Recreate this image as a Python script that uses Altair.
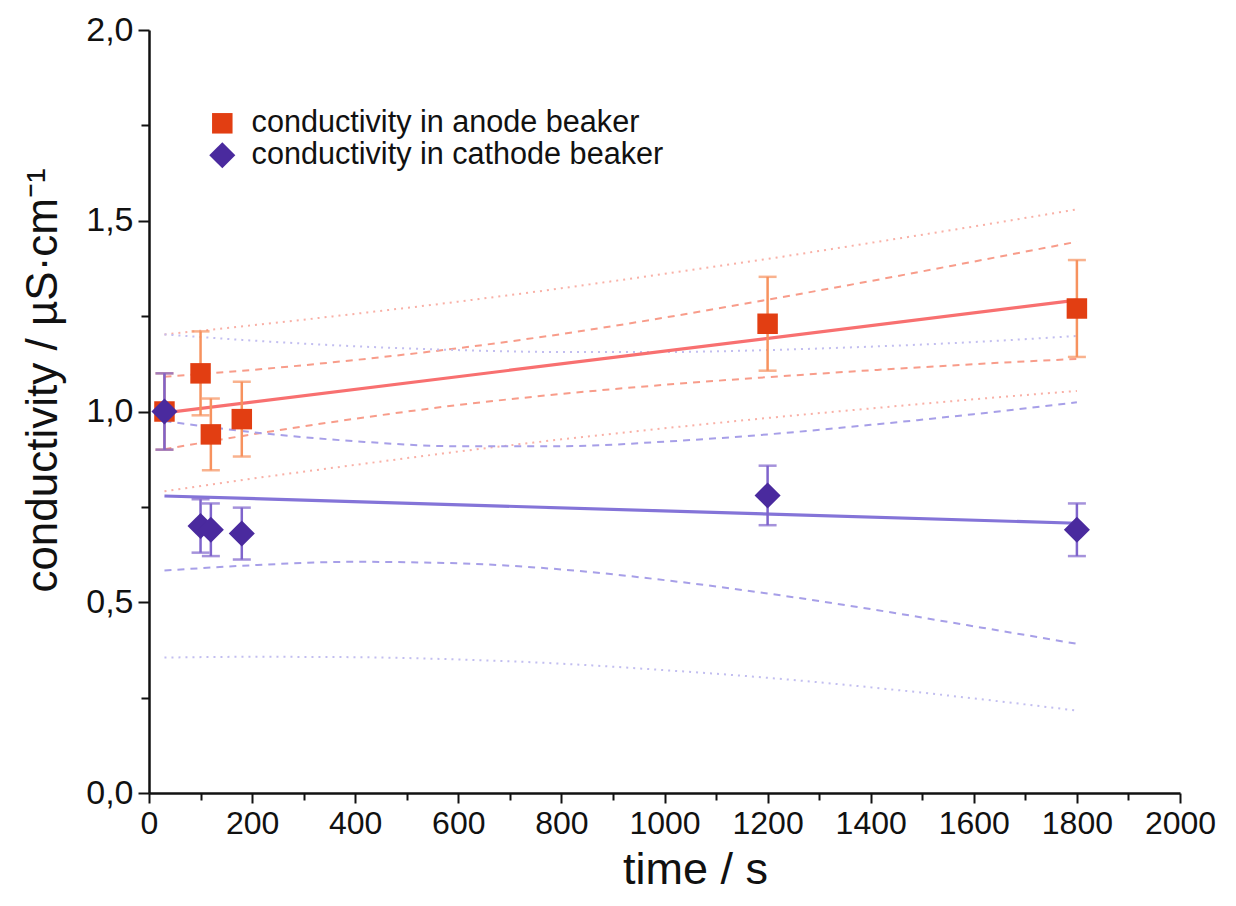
import altair as alt
import pandas as pd

# ---- measured data ----
time_s = [30, 100, 120, 180, 1200, 1800]
anode = [1.00, 1.10, 0.94, 0.98, 1.23, 1.27]
anode_err = [0.100, 0.110, 0.094, 0.098, 0.123, 0.127]
cathode = [1.00, 0.70, 0.69, 0.68, 0.78, 0.69]
cathode_err = [0.100, 0.070, 0.069, 0.068, 0.078, 0.069]

series_names = ["conductivity in anode beaker", "conductivity in cathode beaker"]

# ---- confidence (dashed) and prediction (dotted) band curves ----
band_x = [30, 200, 400, 600, 800, 1000, 1200, 1400, 1600, 1800]
anode_conf_hi = [1.091, 1.109, 1.135, 1.166, 1.203, 1.246, 1.293, 1.342, 1.393, 1.445]
anode_conf_lo = [0.901, 0.940, 0.981, 1.017, 1.046, 1.070, 1.090, 1.108, 1.124, 1.138]
anode_pred_hi = [1.202, 1.226, 1.256, 1.288, 1.323, 1.361, 1.400, 1.442, 1.485, 1.530]
anode_pred_lo = [0.791, 0.824, 0.860, 0.895, 0.927, 0.956, 0.983, 1.008, 1.032, 1.054]
cathode_conf_hi = [0.975, 0.946, 0.922, 0.909, 0.909, 0.921, 0.940, 0.965, 0.993, 1.024]
cathode_conf_lo = [0.583, 0.597, 0.606, 0.602, 0.586, 0.558, 0.523, 0.482, 0.437, 0.391]
cathode_pred_hi = [1.202, 1.186, 1.171, 1.161, 1.156, 1.156, 1.161, 1.170, 1.182, 1.198]
cathode_pred_lo = [0.355, 0.357, 0.356, 0.350, 0.339, 0.322, 0.302, 0.277, 0.248, 0.216]

x_ticks = list(range(0, 2001, 100))
y_ticks = [i * 0.25 for i in range(9)]

# ---- tables ----
rows = []
for name, vals, errs in [(series_names[0], anode, anode_err), (series_names[1], cathode, cathode_err)]:
    for t, v, e in zip(time_s, vals, errs):
        rows.append({"time": t, "value": v, "lo": v - e, "hi": v + e, "series": name})
pts = pd.DataFrame(rows)

band_rows = []
for key, arr in [("a_conf_hi", anode_conf_hi), ("a_conf_lo", anode_conf_lo),
                 ("a_pred_hi", anode_pred_hi), ("a_pred_lo", anode_pred_lo),
                 ("c_conf_hi", cathode_conf_hi), ("c_conf_lo", cathode_conf_lo),
                 ("c_pred_hi", cathode_pred_hi), ("c_pred_lo", cathode_pred_lo)]:
    for t, v in zip(band_x, arr):
        band_rows.append({"time": t, "value": v, "curve": key})
bands = pd.DataFrame(band_rows)

REG_FONT = "'Liberation Sans', Arial, sans-serif"

x_axis = alt.Axis(
    values=x_ticks,
    labelExpr="datum.value % 200 == 0 ? format(datum.value, 'd') : ''",
    title="time / s",
    labelFont=REG_FONT, labelFontSize=32, labelColor="#111111",
    titleFont=REG_FONT, titleFontSize=45, titleFontWeight="normal", titleColor="#111111",
    tickSize={"condition": {"test": "datum.value % 200 == 0", "value": 10}, "value": 7},
    labelPadding=5, titlePadding=8, titleX=546,
    labelFlush=False, labelOverlap=False,
)
y_axis = alt.Axis(
    values=y_ticks,
    labelExpr="datum.value % 0.5 == 0 ? replace(format(datum.value, '.1f'), '.', ',') : ''",
    title="conductivity / µS·cm⁻¹",
    labelFont=REG_FONT, labelFontSize=34, labelColor="#111111",
    titleFont=REG_FONT, titleFontSize=44, titleFontWeight="normal", titleColor="#111111",
    tickSize={"condition": {"test": "datum.value % 0.5 == 0", "value": 11}, "value": 8},
    labelPadding=5, titlePadding=20, titleY=350,
    labelFlush=False, labelOverlap=False,
)

xs = alt.Scale(domain=[0, 2000], nice=False, zero=False)
ys = alt.Scale(domain=[0, 2], nice=False, zero=False)

X = alt.X("time:Q", scale=xs, axis=x_axis)
Y = alt.Y("value:Q", scale=ys, axis=y_axis)


def band_layer(keys, color, dash):
    return alt.Chart(bands).transform_filter(
        alt.FieldOneOfPredicate(field="curve", oneOf=keys)
    ).mark_line(color=color, strokeWidth=2, strokeDash=dash, interpolate="monotone").encode(
        x=X, y=Y, detail="curve:N"
    )


layers = [
    band_layer(["a_pred_hi", "a_pred_lo"], "#F9B0A6", [2, 5]),
    band_layer(["a_conf_hi", "a_conf_lo"], "#F89C8A", [7, 6]),
    band_layer(["c_pred_hi", "c_pred_lo"], "#C2BEF0", [2, 5]),
    band_layer(["c_conf_hi", "c_conf_lo"], "#A79FE8", [7, 6]),
]

fit_colors = {series_names[0]: "#F87070", series_names[1]: "#8474D8"}
err_colors = {series_names[0]: "#F7925E", series_names[1]: "#7F64CC"}

for name in series_names:
    base = alt.Chart(pts).transform_filter(alt.datum.series == name)
    layers.append(
        base.transform_regression("time", "value").mark_line(
            color=fit_colors[name], strokeWidth=3.2
        ).encode(x=X, y=Y)
    )

for name in series_names:
    base = alt.Chart(pts).transform_filter(alt.datum.series == name)
    layers.append(
        base.mark_rule(color=err_colors[name], strokeWidth=2.5).encode(
            x=X, y=alt.Y("lo:Q", scale=ys, axis=y_axis), y2="hi:Q"
        )
    )
    for f in ["lo", "hi"]:
        layers.append(
            base.mark_tick(color=err_colors[name], thickness=2.5, size=18, orient="horizontal").encode(
                x=X, y=alt.Y(f + ":Q", scale=ys, axis=y_axis)
            )
        )

points = alt.Chart(pts).mark_point(filled=True, opacity=1, strokeWidth=0).encode(
    x=X,
    y=Y,
    color=alt.Color(
        "series:N",
        scale=alt.Scale(domain=series_names, range=["#E23E12", "#4A2A9E"]),
        legend=alt.Legend(
            title=None, orient="none", legendX=58, legendY=78,
            labelFont=REG_FONT, labelFontSize=30.6, labelColor="#111111",
            symbolSize=420, symbolStrokeWidth=0, labelOffset=14, labelLimit=0,
            rowPadding=1, padding=0, symbolOpacity=1,
        ),
    ),
    shape=alt.Shape(
        "series:N",
        scale=alt.Scale(domain=series_names, range=["square", "diamond"]),
    ),
    size=alt.Size("series:N", scale=alt.Scale(domain=series_names, range=[420, 680]), legend=None),
    order=alt.Order("series:N", sort="ascending"),
)
layers.append(points)

chart = alt.layer(*layers).properties(
    width=1031,
    height=763,
    padding={"left": 149, "top": 30, "right": 56, "bottom": 113},
    autosize=alt.AutoSizeParams(type="none"),
    background="white",
).configure_view(stroke=None).configure_axis(
    grid=False,
    domainColor="#111111",
    domainWidth=2.5,
    tickColor="#111111",
    tickWidth=2,
)

chart.save("out.html", embed_options={"renderer": "svg", "actions": False})
